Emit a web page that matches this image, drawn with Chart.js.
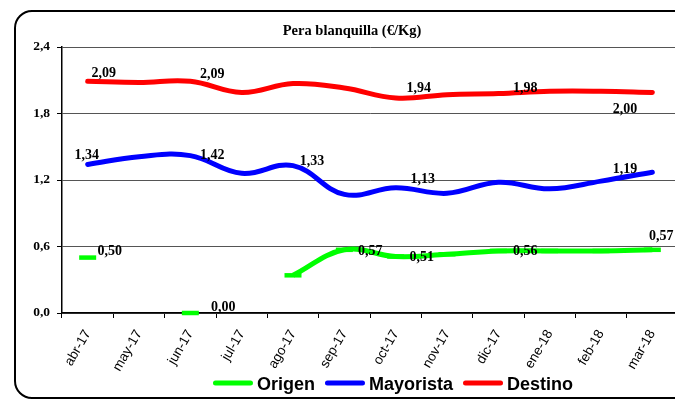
<!DOCTYPE html>
<html>
<head>
<meta charset="utf-8">
<script src="https://cdn.jsdelivr.net/npm/chart.js@4.4.1/dist/chart.umd.min.js"></script>
<style>
  html, body { margin: 0; padding: 0; width: 675px; height: 400px; overflow: hidden; background: #fff; }
  #wrap { position: relative; width: 700px; height: 400px; }
  #frame { position: absolute; left: 14px; top: 10px; width: 720px; height: 389px; box-sizing: border-box;
           border: 2px solid #000; border-radius: 18px; pointer-events: none; }
  canvas { position: absolute; left: 0; top: 0; }
</style>
</head>
<body>
<div id="wrap">
  <canvas id="chart" width="700" height="400"></canvas>
  <div id="frame"></div>
</div>
<script>
// Monthly prices, €/Kg
const months = ['abr-17', 'may-17', 'jun-17', 'jul-17', 'ago-17', 'sep-17',
                'oct-17', 'nov-17', 'dic-17', 'ene-18', 'feb-18', 'mar-18'];
const seriesNames = ['Origen', 'Mayorista', 'Destino'];
const origen    = [0.50, null, 0.00, null, 0.34, 0.57, 0.51, 0.53, 0.56, 0.56, 0.56, 0.57];
const mayorista = [1.34, 1.41, 1.42, 1.26, 1.33, 1.07, 1.13, 1.08, 1.18, 1.12, 1.19, 1.27];
const destino   = [2.09, 2.08, 2.09, 1.99, 2.07, 2.03, 1.94, 1.97, 1.98, 2.00, 2.00, 1.99];
const yTicks = [0, 0.6, 1.2, 1.8, 2.4];

// Months that carry a value label, per series
const labelledOrigen    = [0, 2, 5, 6, 8, 11];
const labelledMayorista = [0, 2, 4, 6, 10];
const labelledDestino   = [0, 2, 6, 8, 10];

// Where each value label sits relative to its point (dx, dy of label centre)
const labelNudge = [
  { 0: [22, -6], 2: [33, -6], 5: [26, 2], 6: [26, 1], 8: [27, 0], 11: [9, -13] },
  { 0: [-1, -9], 2: [22, 0], 4: [19, -4], 6: [27, -8], 10: [24, -12] },
  { 0: [16, -8], 2: [22, -7], 6: [23, -10], 8: [27, -5], 10: [24, 18] }
];

const colors = ['#00ff00', '#0000ff', '#ff0000'];
const serif = '"Liberation Serif", "Times New Roman", serif';
const sans = '"Liberation Sans", Arial, sans-serif';
const fmt = (v, d) => v.toFixed(d).replace('.', ',');

const titlePlugin = {
  id: 'titleText',
  afterDraw(chart) {
    const ctx = chart.ctx;
    ctx.save();
    ctx.font = 'bold 14.5px ' + serif;
    ctx.fillStyle = '#000';
    ctx.textAlign = 'center';
    ctx.textBaseline = 'middle';
    ctx.fillText('Pera blanquilla (€/Kg)', 352, 31);
    ctx.restore();
  }
};

const valueLabels = {
  id: 'valueLabels',
  afterDatasetsDraw(chart) {
    const ctx = chart.ctx;
    const labelled = [labelledOrigen, labelledMayorista, labelledDestino];
    ctx.save();
    ctx.font = 'bold 14px ' + serif;
    ctx.fillStyle = '#000';
    ctx.textAlign = 'center';
    ctx.textBaseline = 'middle';
    chart.data.datasets.forEach((ds, di) => {
      const meta = chart.getDatasetMeta(di);
      labelled[di].forEach(i => {
        const pt = meta.data[i];
        const v = ds.data[i];
        if (v === null || !pt) return;
        const [dx, dy] = labelNudge[di][i] || [20, -6];
        ctx.fillText(fmt(v, 2), pt.x + dx, pt.y + dy);
      });
    });
    ctx.restore();
  }
};

const lineLegend = {
  id: 'lineLegend',
  afterDraw(chart) {
    const ctx = chart.ctx;
    ctx.save();
    ctx.font = 'bold 18px ' + sans;
    const sample = 40, gapText = 4, gapItem = 10;
    const widths = chart.data.datasets.map(ds => sample + gapText + ctx.measureText(ds.label).width);
    const total = widths.reduce((a, b) => a + b, 0) + gapItem * (widths.length - 1);
    let x = 393 - total / 2;
    const y = 383;
    chart.data.datasets.forEach((ds, i) => {
      ctx.strokeStyle = ds.borderColor;
      ctx.lineWidth = 5;
      ctx.lineCap = 'round';
      ctx.beginPath();
      ctx.moveTo(x + 2.5, y);
      ctx.lineTo(x + sample - 2.5, y);
      ctx.stroke();
      ctx.fillStyle = '#000';
      ctx.textAlign = 'left';
      ctx.textBaseline = 'middle';
      ctx.fillText(ds.label, x + sample + gapText, y + 2);
      x += widths[i] + gapItem;
    });
    ctx.restore();
  }
};

new Chart(document.getElementById('chart'), {
  type: 'line',
  data: {
    labels: months,
    datasets: [
      { label: seriesNames[0], data: origen, borderColor: colors[0], backgroundColor: colors[0],
        borderWidth: 5, tension: 0.4, spanGaps: false, clip: false,
        pointStyle: 'line', pointRadius: 8.5, pointBorderWidth: 4.5, pointBorderColor: colors[0],
        pointHoverRadius: 8.5 },
      { label: seriesNames[1], data: mayorista, borderColor: colors[1], backgroundColor: colors[1],
        borderWidth: 5, tension: 0.4, borderCapStyle: 'round', pointRadius: 0 },
      { label: seriesNames[2], data: destino, borderColor: colors[2], backgroundColor: colors[2],
        borderWidth: 5, tension: 0.4, borderCapStyle: 'round', pointRadius: 0 }
    ]
  },
  options: {
    responsive: false,
    animation: false,
    layout: { padding: { left: 0, right: 22, top: 47, bottom: 17 } },
    plugins: { legend: { display: false }, title: { display: false }, tooltip: { enabled: false } },
    scales: {
      x: {
        offset: true,
        grid: { offset: true, drawOnChartArea: false, drawTicks: true, tickLength: 5, color: '#000', lineWidth: 1 },
        border: { color: '#000', width: 1.5 },
        ticks: { autoSkip: false, minRotation: 60, maxRotation: 60, padding: 9,
                 font: { family: sans, size: 13.5 }, color: '#000' },
        afterFit(s) { s.height = 70; }
      },
      y: {
        min: 0, max: 2.4,
        afterBuildTicks(s) { s.ticks = yTicks.map(v => ({ value: v })); },
        ticks: { callback: v => fmt(v, 1), padding: 7,
                 font: { family: serif, size: 13.5, weight: 'bold' }, color: '#000' },
        grid: { color: '#555', lineWidth: 1, tickLength: 5, tickColor: '#000' },
        border: { color: '#000', width: 1.5 },
        afterFit(s) { s.width = 62; }
      }
    }
  },
  plugins: [valueLabels, titlePlugin, lineLegend]
});
</script>
</body>
</html>
